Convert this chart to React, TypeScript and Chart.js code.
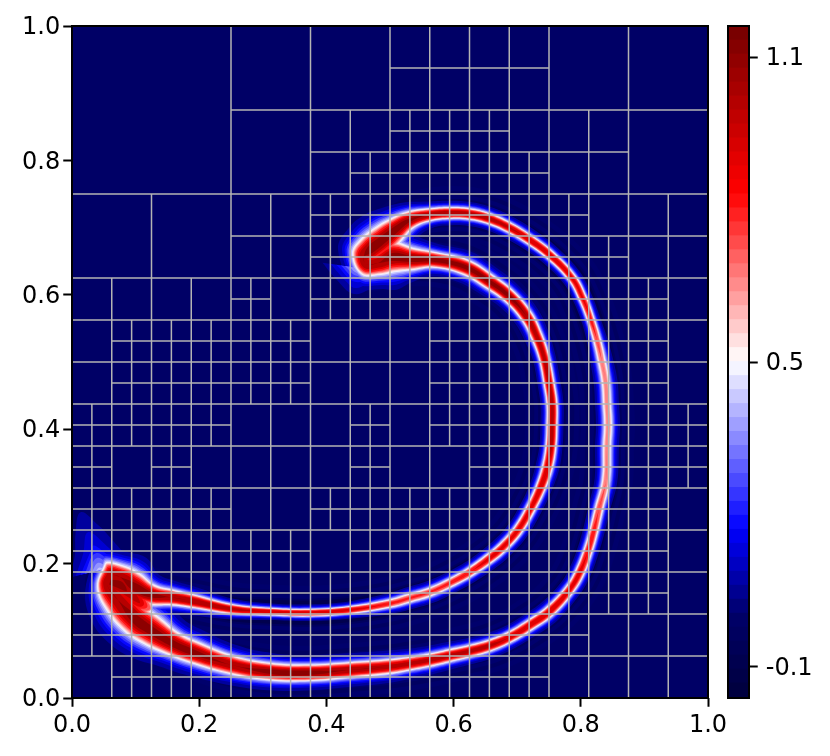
import React, { useEffect, useRef } from "react";
import { Chart, registerables } from "chart.js";

Chart.register(...registerables);

// Mesh: leaf cell size (in 1/32 units) of every 1/16 x 1/16 block, rows from top to bottom
const meshRows = [
  "8888444422224444",
  "8888444422224444",
  "8888442211122244",
  "8888442111112244",
  "4444221111111222",
  "4444221111111122",
  "2222121111111112",
  "2111112221111112",
  "2111112221111112",
  "1111222121111111",
  "1212222122111111",
  "1111221111111112",
  "1111112111111112",
  "1111111111111112",
  "1111111111111222",
  "2111111111112222",
];

// Filament closed loop: centre line, half thickness at the 0.5 contour, peak value
const filamentX = [
  0.0613, 0.055, 0.0723, 0.0991, 0.1258, 0.1572, 0.1887, 0.2516, 0.3129, 0.3742, 0.4371,
  0.5, 0.5314, 0.5629, 0.5943, 0.6258, 0.6572, 0.6887, 0.7201, 0.7516, 0.783, 0.7987,
  0.8113, 0.8208, 0.8286, 0.8396, 0.8412, 0.8428, 0.8412, 0.8392, 0.8333, 0.8259, 0.816, 0.8035, 0.7862,
  0.7516, 0.7201, 0.6887, 0.6572, 0.6258, 0.5943, 0.5629, 0.5314, 0.5079, 0.4921, 0.4686, 0.4591, 0.4623,
  0.4811, 0.5047, 0.5346, 0.5708, 0.6179, 0.6572, 0.6887, 0.7154, 0.7311, 0.7421, 0.75, 0.7547, 0.7547, 0.7531,
  0.7476, 0.7366, 0.7209, 0.7013, 0.6777, 0.6572, 0.6258, 0.5943, 0.5629, 0.5314, 0.5, 0.4371, 0.3742, 0.3129,
  0.2516, 0.1887, 0.1572, 0.1258, 0.0959, 0.0755, 0.0613,
];
const filamentY = [
  0.1845, 0.1696, 0.1458, 0.1176, 0.0997, 0.0818, 0.0689, 0.0491, 0.0391, 0.0376, 0.0417,
  0.0469, 0.0513, 0.0565, 0.0632, 0.0699, 0.0781, 0.0908, 0.1086, 0.1295, 0.1622, 0.1875,
  0.2188, 0.25, 0.2813, 0.3244, 0.375, 0.4063, 0.4375, 0.4688, 0.5, 0.5313, 0.5625, 0.5938, 0.625,
  0.6592, 0.6815, 0.6994, 0.7128, 0.7202, 0.7217, 0.7192, 0.7113, 0.6964, 0.6845, 0.6667, 0.6563, 0.6458,
  0.6473, 0.6563, 0.6533, 0.6518, 0.6414, 0.619, 0.5967, 0.567, 0.5372, 0.5074, 0.4688, 0.4375, 0.4063, 0.375,
  0.3438, 0.3125, 0.2813, 0.25, 0.2247, 0.2083, 0.1875, 0.1711, 0.1577, 0.1488, 0.1406, 0.131, 0.1269, 0.1284,
  0.1324, 0.1443, 0.1496, 0.1533, 0.1667, 0.18, 0.1845,
];
const filamentHalf = [
  0.0189, 0.0157, 0.0236, 0.0252, 0.0236, 0.0189, 0.0173, 0.0142, 0.0134, 0.0126, 0.0118,
  0.011, 0.0102, 0.0098, 0.0094, 0.009, 0.0086, 0.0079, 0.0079, 0.0079, 0.0071, 0.0071,
  0.0066, 0.0063, 0.006, 0.0055, 0.0055, 0.0055, 0.0055, 0.0055, 0.0055, 0.0055, 0.0055, 0.006, 0.0063,
  0.0068, 0.0071, 0.0075, 0.0079, 0.0083, 0.0086, 0.0094, 0.0134, 0.0189, 0.022, 0.022, 0.0189, 0.0173,
  0.0189, 0.0236, 0.0173, 0.0118, 0.0118, 0.011, 0.0102, 0.0094, 0.0086, 0.0079, 0.0079, 0.0079, 0.0079, 0.0079,
  0.0079, 0.0075, 0.0071, 0.0071, 0.0071, 0.0071, 0.0066, 0.0063, 0.0063, 0.0063, 0.006, 0.0055, 0.0055, 0.0055,
  0.0071, 0.0102, 0.0118, 0.0157, 0.022, 0.0189, 0.0189,
];
const filamentPeak = [
  1.1, 1.1, 1.1, 1.15, 1.15, 1.15, 1.15, 1.1, 1.15, 1.15, 1.1,
  1.05, 1.05, 1.05, 1.05, 1.05, 1.05, 1.0, 1.0, 1.0, 0.95, 0.95,
  0.9, 0.85, 0.8, 0.72, 0.7, 0.7, 0.7, 0.7, 0.72, 0.78, 0.85, 0.92, 0.95,
  1.0, 1.0, 1.02, 1.05, 1.08, 1.1, 1.1, 1.12, 1.15, 1.15, 1.15, 1.1, 1.1,
  1.1, 1.15, 1.15, 1.15, 1.15, 1.15, 1.15, 1.1, 1.05, 1.05, 1.05, 1.05, 1.05, 1.05,
  1.0, 1.0, 0.95, 0.95, 0.95, 0.95, 0.9, 0.85, 0.82, 0.82, 0.85, 0.95, 1.0, 1.0,
  1.05, 1.1, 1.1, 1.15, 1.15, 1.1, 1.1,
];

// Core that fills the tail between the two arms
const bridgeX = [0.0597, 0.0755, 0.1069, 0.1226];
const bridgeY = [0.1726, 0.1682, 0.1414, 0.1324];
const bridgeHalf = [0.0157, 0.022, 0.0157, 0.0063];
const bridgePeak = [1.15, 1.15, 1.0, 0.72];

// Diffuse plumes beside the tail and the head
const tailPlumeX = [0.044, 0.0362, 0.0236, 0.0094];
const tailPlumeY = [0.1905, 0.2202, 0.25, 0.2872];
const tailPlumeHalf = [0.0157, 0.0142, 0.0126, 0.0094];
const tailPlumePeak = [0.45, 0.2, 0.11, 0.04];
const headPlumeX = [0.4497, 0.4465, 0.4434];
const headPlumeY = [0.6399, 0.619, 0.5997];
const headPlumeHalf = [0.0173, 0.0142, 0.0094];
const headPlumePeak = [0.45, 0.18, 0.05];

const fieldLevels = [0.06, 0.12, 0.18, 0.24, 0.3, 0.36, 0.42, 0.48, 0.54, 0.6, 0.66, 0.72, 0.8, 0.9, 1.0, 1.1];

const colorbarEdges = [
  -0.161, -0.1335, -0.106, -0.0785, -0.051, -0.0235, 0.004, 0.0315, 0.059, 0.0865, 0.114, 0.1415, 0.169, 0.1965, 0.224,
  0.2515, 0.279, 0.3065, 0.334, 0.3615, 0.389, 0.4165, 0.444, 0.4715, 0.499, 0.5265, 0.554, 0.5815, 0.609, 0.6365, 0.664,
  0.6915, 0.719, 0.7465, 0.774, 0.8015, 0.829, 0.8565, 0.884, 0.9115, 0.939, 0.9665, 0.994, 1.0215, 1.049, 1.0765, 1.104,
  1.1315, 1.161,
];
const colorbarTicks = [-0.1, 0.5, 1.1];
const axisTicks = [0, 0.2, 0.4, 0.6, 0.8, 1];

const FONT = { family: '"DejaVu Sans"', size: 24 };
const VMIN = -0.161;
const VMAX = 1.161;
const ASPECT = 672 / 636;
const stops: [number, number[]][] = [
  [0, [0, 0, 60]],
  [0.122, [0, 0, 105]],
  [0.25, [0, 0, 255]],
  [0.5, [255, 255, 255]],
  [0.75, [255, 0, 0]],
  [1, [115, 0, 0]],
];
function cmap(v: number): string {
  const t = Math.min(1, Math.max(0, (v - VMIN) / (VMAX - VMIN)));
  for (let i = 1; i < stops.length; i++) {
    if (t <= stops[i][0]) {
      const [t0, c0] = stops[i - 1];
      const [t1, c1] = stops[i];
      const f = (t - t0) / (t1 - t0);
      return `rgb(${c0.map((c, k) => Math.round(c + (c1[k] - c) * f)).join(",")})`;
    }
  }
  return "rgb(115,0,0)";
}

function meshPath() {
  const n = 32;
  const h = Array.from({ length: n + 1 }, () => new Array(n).fill(false));
  const v = Array.from({ length: n }, () => new Array(n + 1).fill(false));
  const rect = (i: number, j: number, s: number) => {
    for (let k = 0; k < s; k++) {
      h[j][i + k] = true;
      h[j + s][i + k] = true;
      v[j + k][i] = true;
      v[j + k][i + s] = true;
    }
  };
  meshRows.forEach((row, r) => {
    [...row].forEach((ch, c) => {
      const s = Number(ch);
      if (s === 1) {
        for (let a = 0; a < 2; a++) for (let b = 0; b < 2; b++) rect(c * 2 + a, r * 2 + b, 1);
      } else if (c % (s / 2) === 0 && r % (s / 2) === 0) {
        rect(c * 2, r * 2, s);
      }
    });
  });
  const pts: { x: number; y: number | null }[] = [];
  for (let j = 0; j <= n; j++) {
    let st = -1;
    for (let i = 0; i <= n; i++) {
      const on = i < n && h[j][i];
      if (on && st < 0) st = i;
      if (!on && st >= 0) {
        pts.push({ x: st / n, y: 1 - j / n }, { x: i / n, y: 1 - j / n }, { x: i / n, y: null });
        st = -1;
      }
    }
  }
  for (let i = 0; i <= n; i++) {
    let st = -1;
    for (let j = 0; j <= n; j++) {
      const on = j < n && v[j][i];
      if (on && st < 0) st = j;
      if (!on && st >= 0) {
        pts.push({ x: i / n, y: 1 - st / n }, { x: i / n, y: 1 - j / n }, { x: i / n, y: null });
        st = -1;
      }
    }
  }
  return pts;
}

type Band = { xs: number[]; ys: number[]; half: number[]; peak: number[]; closed: boolean };
const bands: Band[] = [
  { xs: tailPlumeX, ys: tailPlumeY, half: tailPlumeHalf, peak: tailPlumePeak, closed: false },
  { xs: headPlumeX, ys: headPlumeY, half: headPlumeHalf, peak: headPlumePeak, closed: false },
  { xs: filamentX, ys: filamentY, half: filamentHalf, peak: filamentPeak, closed: true },
  { xs: bridgeX, ys: bridgeY, half: bridgeHalf, peak: bridgePeak, closed: false },
];

function halfAt(h: number, a: number, v: number) {
  if (a <= v) return 0;
  const exponent = v < 0.5 ? 0.62 : 0.45;
  return h * Math.pow(Math.log(a / v) / Math.max(Math.log(a / 0.5), 0.3), exponent);
}

// The outline of a band at contour value v: its centre line offset to one side, then back on the other.
// An open band ends in a tip where its peak falls to v.
function ribbon(b: Band, v: number) {
  const n = b.xs.length;
  const left: { x: number; y: number }[] = [];
  const right: { x: number; y: number }[] = [];
  let tip: { x: number; y: number } | null = null;
  for (let i = 0; i < n; i++) {
    if (!b.closed && b.peak[i] <= v) {
      if (i > 0) {
        const f = (b.peak[i - 1] - v) / (b.peak[i - 1] - b.peak[i]);
        tip = { x: b.xs[i - 1] + (b.xs[i] - b.xs[i - 1]) * f, y: b.ys[i - 1] + (b.ys[i] - b.ys[i - 1]) * f };
      }
      break;
    }
    let pi = i - 1;
    let ni = i + 1;
    if (b.closed) {
      if (pi < 0) pi = n - 2;
      if (ni > n - 1) ni = 1;
    } else {
      pi = Math.max(pi, 0);
      ni = Math.min(ni, n - 1);
    }
    const tx = b.xs[ni] - b.xs[pi];
    const ty = (b.ys[ni] - b.ys[pi]) * ASPECT;
    const len = Math.hypot(tx, ty) || 1;
    const d = halfAt(b.half[i], b.peak[i], v);
    const ox = (-ty / len) * d;
    const oy = ((tx / len) * d) / ASPECT;
    left.push({ x: b.xs[i] + ox, y: b.ys[i] + oy });
    right.push({ x: b.xs[i] - ox, y: b.ys[i] - oy });
  }
  return left.concat(tip ? [tip] : [], right.reverse());
}

function levelDataset(b: Band, v: number, order: number) {
  return {
    data: ribbon(b, v),
    showLine: true,
    pointRadius: 0,
    tension: 0.4,
    borderWidth: 0,
    backgroundColor: cmap(v),
    fill: "shape",
    order,
  };
}

function rippleDataset(width: number, color: string, order: number) {
  return {
    data: filamentX.map((x, i) => ({ x, y: filamentY[i] })),
    showLine: true,
    pointRadius: 0,
    tension: 0.4,
    borderWidth: width,
    borderColor: color,
    borderJoinStyle: "round",
    order,
  };
}

const framePlugin = (bg: string | null) => ({
  id: "frame",
  beforeDatasetsDraw(chart: any) {
    if (!bg) return;
    const { ctx, chartArea: a } = chart;
    ctx.save();
    ctx.fillStyle = bg;
    ctx.fillRect(a.left, a.top, a.right - a.left, a.bottom - a.top);
    ctx.restore();
  },
  afterDatasetsDraw(chart: any) {
    const { ctx, chartArea: a } = chart;
    ctx.save();
    ctx.strokeStyle = "#000";
    ctx.lineWidth = 2;
    ctx.strokeRect(a.left, a.top, a.right - a.left, a.bottom - a.top);
    ctx.restore();
  },
});

export default function App() {
  const mainRef = useRef<HTMLCanvasElement>(null);
  const barRef = useRef<HTMLCanvasElement>(null);

  useEffect(() => {
    const datasets: any[] = [
      {
        data: meshPath(),
        showLine: true,
        spanGaps: false,
        pointRadius: 0,
        borderColor: "#b4b4b4",
        borderWidth: 1.5,
        order: 0,
      },
    ];
    const ripples: [number, string][] = [
      [54, "#00006c"],
      [44, "#000061"],
      [36, "#00006e"],
      [28, "#00005f"],
      [24, "#00004e"],
    ];
    ripples.forEach(([w, c], i) => datasets.push(rippleDataset(w, c, 2000 - i)));
    fieldLevels.forEach((v, li) => {
      bands.forEach((b) => {
        if (b.peak[0] > v || (b.closed && Math.max(...b.peak) > v)) datasets.push(levelDataset(b, v, 1000 - li));
      });
    });

    const main = new Chart(mainRef.current as HTMLCanvasElement, {
      type: "scatter",
      data: { datasets },
      plugins: [framePlugin("#000066")],
      options: {
        animation: false,
        responsive: false,
        layout: { padding: { top: 26, right: 122, left: 0, bottom: 0 } },
        plugins: { legend: { display: false }, tooltip: { enabled: false } },
        scales: {
          x: {
            type: "linear",
            min: 0,
            max: 1,
            afterBuildTicks: (s: any) => {
              s.ticks = axisTicks.map((value) => ({ value }));
            },
            afterFit: (s: any) => {
              s.height = 58;
            },
            border: { display: false },
            grid: { drawOnChartArea: false, tickLength: 8.75, tickWidth: 2, tickColor: "#000" },
            ticks: { color: "#000", font: FONT, maxRotation: 0, padding: 5, callback: (v: any) => Number(v).toFixed(1) },
          },
          y: {
            type: "linear",
            min: 0,
            max: 1,
            afterBuildTicks: (s: any) => {
              s.ticks = axisTicks.map((value) => ({ value }));
            },
            afterFit: (s: any) => {
              s.width = 72;
            },
            border: { display: false },
            grid: { drawOnChartArea: false, tickLength: 8.75, tickWidth: 2, tickColor: "#000" },
            ticks: { color: "#000", font: FONT, padding: 3, labelOffset: 2, callback: (v: any) => Number(v).toFixed(1) },
          },
        },
      } as any,
    });

    const barDatasets = colorbarEdges.slice(0, -1).map((lo, i) => {
      const hi = colorbarEdges[i + 1];
      return {
        data: [[lo, hi + 0.002]],
        backgroundColor: cmap((lo + hi) / 2),
        borderWidth: 0,
        grouped: false,
        barPercentage: 1,
        categoryPercentage: 1,
      };
    });
    const bar = new Chart(barRef.current as HTMLCanvasElement, {
      type: "bar",
      data: { labels: ["value"], datasets: barDatasets },
      plugins: [framePlugin(null)],
      options: {
        animation: false,
        responsive: false,
        layout: { padding: { top: 26, bottom: 58, left: 28, right: 0 } },
        plugins: { legend: { display: false }, tooltip: { enabled: false } },
        scales: {
          x: { display: false },
          y: {
            type: "linear",
            position: "right",
            min: VMIN,
            max: VMAX,
            afterBuildTicks: (s: any) => {
              s.ticks = colorbarTicks.map((value) => ({ value }));
            },
            afterFit: (s: any) => {
              s.width = 81;
            },
            border: { display: false },
            grid: { drawOnChartArea: false, tickLength: 8.75, tickWidth: 2, tickColor: "#000" },
            ticks: { color: "#000", font: FONT, padding: 8, labelOffset: 2, callback: (v: any) => Number(v).toFixed(1) },
          },
        },
      } as any,
    });

    return () => {
      main.destroy();
      bar.destroy();
    };
  }, []);

  return (
    <div style={{ position: "absolute", left: 0, top: 0, width: 830, height: 756, background: "#fff" }}>
      <canvas ref={mainRef} width={830} height={756} style={{ position: "absolute", left: 0, top: 0 }} />
      <canvas ref={barRef} width={130} height={756} style={{ position: "absolute", left: 700, top: 0 }} />
    </div>
  );
}
